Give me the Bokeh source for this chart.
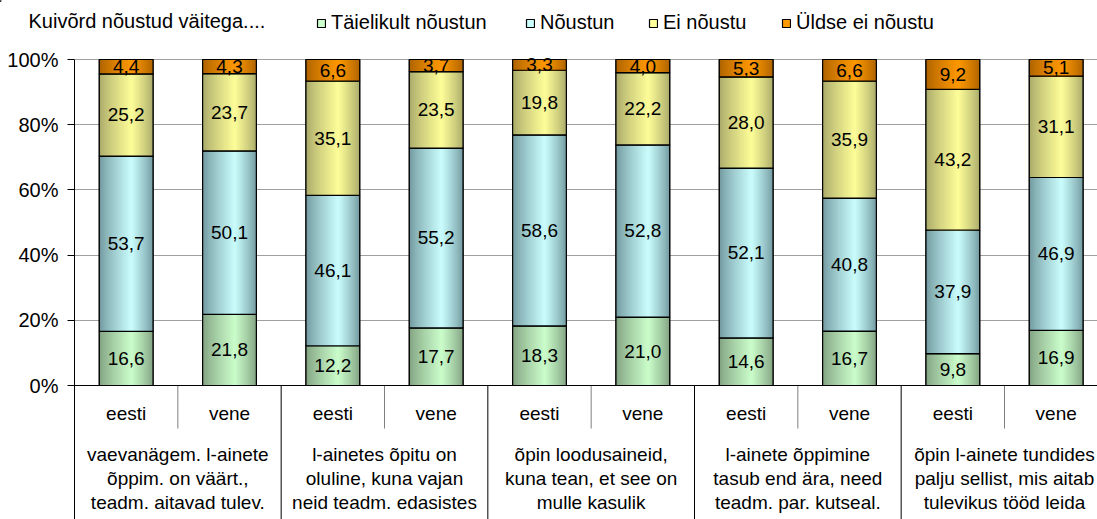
import numpy as np
from bokeh.plotting import figure
from bokeh.models import (Range1d, FixedTicker, PrintfTickFormatter, Span,
                          Legend, LegendItem, ColumnDataSource)
from bokeh.core.properties import value
from bokeh.embed import file_html
from bokeh.resources import INLINE

# ---------------- data ----------------
chart_title = "Kuivõrd nõustud väitega...."
groups = ["vaevanägem. l-ainete\nõppim. on väärt.,\nteadm. aitavad tulev.",
          "l-ainetes õpitu on\noluline, kuna vajan\nneid teadm. edasistes",
          "õpin loodusaineid,\nkuna tean, et see on\nmulle kasulik",
          "l-ainete õppimine\ntasub end ära, need\nteadm. par. kutseal.",
          "õpin l-ainete tundides\npalju sellist, mis aitab\ntulevikus tööd leida"]
languages = ["eesti", "vene"]
series = ["Täielikult nõustun", "Nõustun", "Ei nõustu", "Üldse ei nõustu"]
taielikult = [16.6, 21.8, 12.2, 17.7, 18.3, 21.0, 14.6, 16.7, 9.8, 16.9]
noustun = [53.7, 50.1, 46.1, 55.2, 58.6, 52.8, 52.1, 40.8, 37.9, 46.9]
ei_noustu = [25.2, 23.7, 35.1, 23.5, 19.8, 22.2, 28.0, 35.9, 43.2, 31.1]
uldse_ei = [4.4, 4.3, 6.6, 3.7, 3.3, 4.0, 5.3, 6.6, 9.2, 5.1]
y_ticks = [0, 20, 40, 60, 80, 100]

# ---------------- style ----------------
FONT = value("Liberation Sans")
FS = "19px"
FS_BIG = "20px"
edge_cols = [(0x84, 0xa4, 0x84), (0x74, 0x9c, 0xa2), (0xac, 0xac, 0x6c), (0xb0, 0x64, 0x00)]
center_cols = [(0xcc, 0xff, 0xcc), (0xcc, 0xff, 0xff), (0xff, 0xff, 0x99), (0xff, 0x99, 0x00)]

def hexc(c):
    return "#%02x%02x%02x" % tuple(int(round(v)) for v in c)

def blend(a, b, f):
    return tuple(a[i] + (b[i] - a[i]) * f for i in range(3))

values = np.array([taielikult, noustun, ei_noustu, uldse_ei], dtype=float)
pct = values / values.sum(axis=0) * 100.0
tops = np.cumsum(pct, axis=0)
bottoms = tops - pct

n_bars = len(groups) * len(languages)
xs = np.arange(n_bars) + 0.5
bar_w = 0.52

W = 1097
TOP_H = 36
MAIN_H = 519 - TOP_H

# ---------------- header: title + legend ----------------
top = figure(width=W, height=TOP_H, x_range=Range1d(0, W), y_range=Range1d(TOP_H, 0),
             x_axis_type=None, y_axis_type=None, output_backend="svg", toolbar_location=None,
             min_border_left=0, min_border_right=0, min_border_top=0, min_border_bottom=0)
top.outline_line_color = None
top.grid.visible = False
top.text(x=[28], y=[20], text=[chart_title], text_baseline="middle", text_align="left",
         text_font=FONT, text_font_size=FS_BIG, text_color="#000000")
leg_x = [316, 525, 648, 781]
for j in range(len(series)):
    r = top.vbar(x=[-100], width=1, bottom=[0], top=[1], fill_color=hexc(center_cols[j]),
                 line_color="#000000", line_width=1.2)
    leg = Legend(items=[LegendItem(label=series[j], renderers=[r])], location=(leg_x[j], 2),
                 orientation="horizontal", glyph_width=10, glyph_height=10, label_standoff=5,
                 label_text_font="Liberation Sans", label_text_font_size=FS_BIG,
                 label_text_color="#000000", border_line_color=None, background_fill_alpha=0,
                 padding=0, margin=0, spacing=0)
    top.add_layout(leg)

# ---------------- main chart ----------------
Y_MIN = -41.1
Y_MAX = 100 + (59 - TOP_H) / 3.26
p = figure(width=W, height=MAIN_H, x_range=Range1d(0, 9.90), y_range=Range1d(Y_MIN, Y_MAX),
           x_axis_type=None, output_backend="svg", toolbar_location=None,
           min_border_left=74, min_border_right=0, min_border_top=0, min_border_bottom=0)
p.outline_line_color = None
p.xgrid.visible = False
p.ygrid.ticker = FixedTicker(ticks=[t for t in y_ticks if t > 0])
p.ygrid.grid_line_color = "#a0a0a0"

ax = p.yaxis[0]
ax.ticker = FixedTicker(ticks=y_ticks)
ax.formatter = PrintfTickFormatter(format="%d%%")
ax.bounds = (Y_MIN, 100)
ax.major_tick_out = 7
ax.major_tick_in = 0
ax.minor_tick_out = 0
ax.minor_tick_in = 0
ax.axis_line_color = "#000000"
ax.major_tick_line_color = "#000000"
ax.major_label_text_font = "Liberation Sans"
ax.major_label_text_font_size = FS_BIG
ax.major_label_text_color = "#000000"
ax.major_label_standoff = 9

# table lines
p.add_layout(Span(location=0, dimension="width", line_color="#000000", line_width=1))
gb = np.arange(0, n_bars + 1, len(languages))[1:]
p.segment(x0=gb, x1=gb, y0=[0] * len(gb), y1=[Y_MIN] * len(gb), line_color="#000000", line_width=1)
sb = np.arange(1, n_bars, len(languages))
p.segment(x0=sb, x1=sb, y0=[0] * len(sb), y1=[-13.2] * len(sb), line_color="#808080", line_width=1)

# bars with cylindrical shading (nested rectangles, highlight slightly right of centre)
N = 18
for j in range(len(series)):
    p.vbar(x=xs, width=bar_w, bottom=bottoms[j], top=tops[j],
           fill_color=hexc(edge_cols[j]), line_color="#000000", line_width=1.2)
    for k in range(N):
        frac = 1.0 - k / N          # relative width of this nested rectangle
        f = (1.0 - frac) ** 0.85
        col = hexc(blend(edge_cols[j], center_cols[j], f))
        p.vbar(x=xs + 0.1 * bar_w * (1 - frac), width=bar_w * frac, bottom=bottoms[j], top=tops[j],
               fill_color=col, line_color=None)
    p.vbar(x=xs, width=bar_w, bottom=bottoms[j], top=tops[j], fill_alpha=0,
           line_color="#000000", line_width=1.2)

# value labels
for j in range(len(series)):
    src = ColumnDataSource(dict(x=xs, y=(bottoms[j] + tops[j]) / 2,
                                t=[("%.1f" % v).replace(".", ",") for v in values[j]]))
    p.text(x="x", y="y", text="t", source=src, text_align="center", text_baseline="middle",
           text_font=FONT, text_font_size=FS, text_color="#000000")

# category labels
p.text(x=xs, y=[-8.6] * n_bars, text=languages * len(groups), text_align="center",
       text_baseline="middle", text_font=FONT, text_font_size=FS, text_color="#000000")
gx = np.arange(len(groups)) * len(languages) + len(languages) / 2
p.text(x=gx, y=[-28.6] * len(groups), text=groups, text_align="center", text_baseline="middle",
       text_font=FONT, text_font_size=FS, text_color="#000000", text_line_height=1.15)

open("out.html", "w").write(file_html([top, p], INLINE))
